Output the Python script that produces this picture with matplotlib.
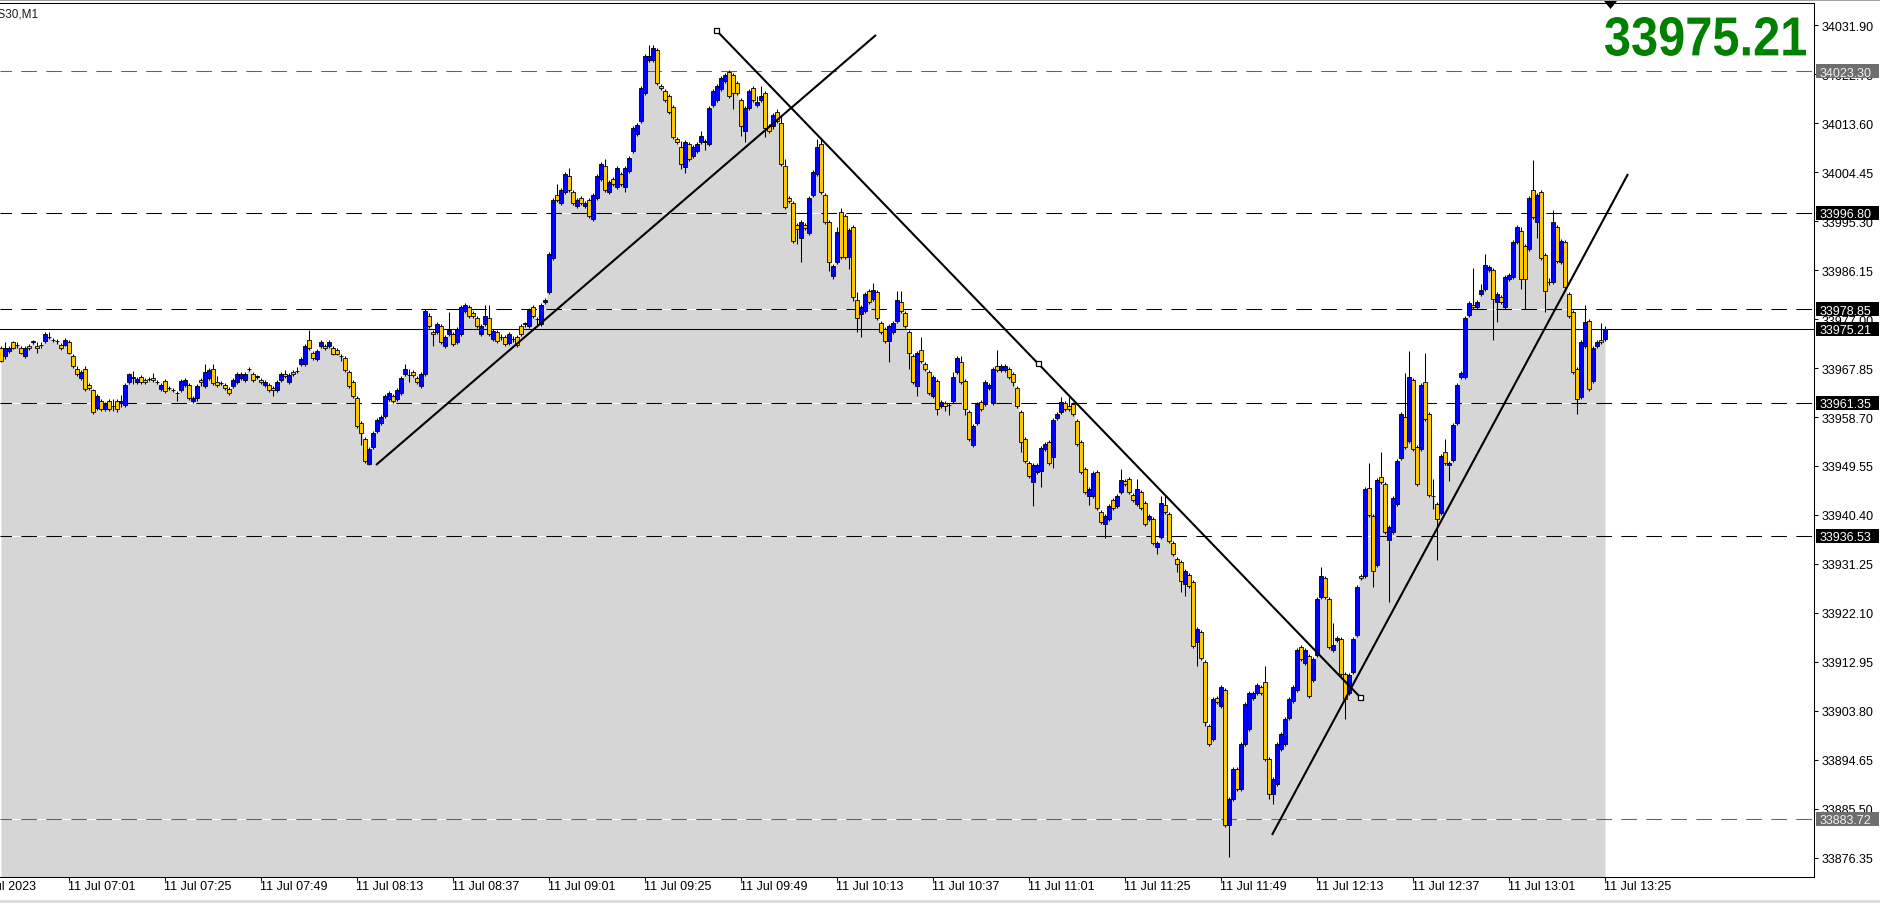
import numpy as np
import matplotlib
matplotlib.use('Agg')
import matplotlib.pyplot as plt
from matplotlib.patches import Rectangle, Polygon, PathPatch
from matplotlib.textpath import TextPath
from matplotlib.font_manager import FontProperties
from matplotlib.transforms import Affine2D, IdentityTransform, blended_transform_factory, offset_copy

plt.rcParams['font.family'] = ['Liberation Sans', 'DejaVu Sans']

W, H = 1881, 904
DPI = 100

# ---------------- data (US30, M1, 11 Jul 2023, bars from 06:44 to 13:25) ----------------
first_bar_time = "06:44"

opens = [
33971.6, 33970.1, 33971.0, 33972.7, 33972.1, 33971.6, 33970.1, 33972.0, 33972.7, 33972.0,
33972.1, 33972.9, 33973.6, 33973.1, 33972.9, 33972.2, 33972.2, 33972.7, 33970.1, 33967.7,
33966.0, 33967.7, 33964.7, 33963.7, 33960.4, 33961.7, 33960.2, 33961.7, 33960.8, 33961.7,
33961.3, 33960.9, 33965.2, 33966.0, 33965.2, 33966.2, 33965.6, 33965.8, 33966.0, 33965.3,
33963.9, 33965.4, 33964.1, 33963.7, 33963.2, 33963.7, 33964.7, 33964.7, 33961.7, 33962.3,
33965.6, 33964.5, 33966.0, 33967.7, 33965.2, 33965.0, 33964.7, 33963.9, 33964.5, 33965.2,
33966.0, 33965.6, 33967.7, 33966.7, 33966.2, 33965.6, 33964.7, 33964.7, 33964.1, 33963.7,
33965.6, 33966.7, 33965.2, 33967.1, 33967.3, 33968.6, 33968.6, 33973.1, 33970.7, 33969.5,
33972.0, 33972.0, 33972.0, 33971.6, 33971.2, 33970.1, 33969.7, 33967.1, 33965.2, 33962.3,
33957.6, 33954.6, 33949.9, 33953.1, 33956.1, 33957.6, 33958.9, 33962.1, 33962.6, 33962.1,
33963.2, 33966.7, 33966.5, 33967.1, 33966.0, 33964.5, 33966.7, 33977.6, 33974.6, 33974.6,
33975.7, 33972.0, 33974.2, 33974.2, 33972.7, 33974.2, 33978.5, 33979.3, 33978.1, 33977.2,
33974.2, 33976.1, 33977.2, 33973.3, 33974.5, 33973.6, 33973.6, 33972.5, 33973.3, 33973.6,
33975.7, 33976.1, 33975.7, 33979.3, 33977.0, 33976.1, 33980.2, 33982.0, 33988.4, 34000.2,
33998.7, 34000.7, 34003.7, 34000.7, 33998.1, 33999.6, 33998.1, 33999.2, 33995.7, 33999.6,
34003.2, 34005.6, 34000.7, 34003.2, 34001.7, 34004.1, 34001.7, 34004.6, 34008.4, 34011.5,
34014.0, 34019.2, 34025.4, 34025.4, 34027.2, 34020.5, 34019.6, 34018.6, 34016.6, 34010.6,
34009.1, 34005.4, 34009.7, 34007.5, 34008.4, 34010.1, 34010.1, 34009.7, 34017.0, 34017.9,
34020.0, 34021.5, 34023.1, 34022.6, 34021.1, 34017.9, 34012.1, 34016.4, 34020.1, 34017.0,
34017.9, 34019.2, 34013.0, 34013.0, 34015.7, 34013.6, 34005.6, 33999.6, 33998.7, 33994.6,
33992.1, 33994.6, 33993.1, 34000.2, 34004.1, 34009.7, 34000.2, 33995.1, 33985.0, 33987.6,
33997.0, 33996.2, 33988.6, 33994.2, 33980.6, 33978.0, 33978.5, 33982.2, 33980.7, 33982.1,
33976.3, 33975.1, 33972.9, 33974.6, 33976.6, 33980.2, 33978.1, 33974.6, 33970.1, 33964.5,
33971.2, 33968.6, 33967.1, 33962.6, 33965.4, 33960.8, 33961.3, 33961.0, 33961.7, 33967.1,
33969.0, 33965.4, 33959.6, 33953.5, 33957.6, 33961.5, 33961.1, 33964.1, 33961.3, 33968.2,
33967.5, 33967.5, 33967.7, 33966.7, 33964.1, 33959.6, 33954.6, 33950.1, 33946.6, 33948.4,
33948.6, 33952.7, 33954.0, 33951.2, 33958.5, 33959.6, 33961.3, 33960.8, 33961.1, 33958.0,
33954.0, 33949.0, 33944.0, 33944.0, 33948.4, 33941.0, 33938.7, 33939.7, 33943.2, 33942.1,
33944.7, 33946.7, 33947.1, 33944.1, 33942.5, 33944.7, 33942.6, 33939.6, 33939.7, 33934.4,
33936.3, 33942.3, 33940.6, 33935.2, 33932.2, 33931.6, 33927.5, 33929.2, 33927.9, 33916.7,
33918.6, 33912.9, 33901.0, 33898.6, 33906.2, 33904.7, 33907.7, 33882.5, 33887.4, 33893.0,
33889.2, 33897.6, 33900.4, 33906.2, 33907.2, 33908.3, 33909.2, 33894.8, 33888.3, 33890.2,
33896.7, 33897.6, 33902.5, 33905.7, 33907.7, 33915.8, 33912.8, 33914.1, 33909.6, 33914.3,
33925.1, 33928.6, 33924.7, 33915.2, 33917.1, 33917.3, 33910.7, 33907.2, 33911.1, 33918.0,
33929.0, 33929.0, 33945.4, 33940.2, 33931.1, 33947.5, 33946.2, 33935.7, 33937.2, 33942.5,
33951.1, 33958.7, 33954.2, 33965.6, 33953.1, 33952.7, 33965.2, 33959.3, 33944.0, 33942.5,
33940.8, 33952.2, 33949.7, 33950.7, 33957.6, 33966.2, 33966.2, 33977.8, 33979.6, 33979.3,
33981.7, 33982.6, 33986.2, 33986.2, 33980.2, 33981.1, 33979.3, 33984.5, 33984.9, 33991.4,
33993.4, 33990.6, 33990.1, 34001.1, 33995.1, 34000.7, 33989.0, 33984.0, 33983.9, 33994.2,
33987.6, 33991.4, 33981.7, 33978.3, 33967.7, 33962.4, 33972.0, 33976.6, 33965.4, 33972.0,
33973.1, 33973.3]

highs = [
33972.0, 33972.7, 33972.0, 33972.9, 33972.7, 33971.9, 33971.9, 33972.3, 33973.0, 33972.7,
33972.7, 33974.5, 33974.6, 33973.4, 33973.3, 33972.5, 33973.5, 33973.0, 33970.4, 33968.2,
33967.5, 33968.2, 33965.0, 33964.0, 33963.0, 33962.0, 33961.5, 33962.0, 33962.1, 33962.0,
33962.8, 33965.0, 33967.0, 33967.3, 33966.2, 33966.5, 33965.9, 33966.1, 33966.9, 33965.6,
33965.0, 33965.8, 33964.5, 33964.1, 33963.6, 33965.8, 33966.0, 33965.0, 33962.6, 33964.9,
33965.9, 33968.6, 33967.8, 33968.6, 33966.4, 33965.4, 33965.0, 33964.3, 33966.0, 33967.1,
33967.1, 33967.1, 33968.0, 33967.1, 33966.6, 33965.9, 33965.6, 33965.0, 33964.5, 33965.6,
33967.1, 33967.5, 33966.9, 33967.4, 33968.0, 33969.9, 33972.3, 33974.9, 33971.0, 33971.4,
33973.1, 33972.3, 33973.1, 33971.9, 33971.6, 33970.4, 33970.0, 33967.4, 33965.6, 33962.6,
33957.9, 33955.0, 33953.1, 33956.1, 33958.5, 33959.1, 33963.0, 33963.6, 33963.0, 33964.1,
33966.4, 33968.6, 33967.7, 33967.4, 33966.4, 33967.1, 33978.9, 33978.1, 33974.9, 33976.5,
33976.1, 33974.0, 33978.3, 33974.6, 33975.5, 33979.6, 33980.0, 33979.6, 33978.5, 33977.6,
33976.1, 33979.6, 33979.6, 33975.1, 33974.9, 33974.2, 33974.0, 33974.6, 33973.8, 33974.0,
33976.1, 33976.5, 33979.1, 33979.6, 33977.4, 33980.0, 33981.0, 33989.5, 33999.6, 34002.2,
34001.5, 34004.5, 34005.2, 34001.1, 33999.6, 34000.0, 33999.0, 33999.6, 34000.6, 34004.1,
34006.4, 34006.9, 34003.0, 34003.5, 34005.6, 34004.5, 34005.6, 34007.5, 34013.1, 34013.6,
34020.5, 34026.5, 34028.2, 34028.2, 34027.6, 34020.9, 34020.0, 34019.0, 34017.0, 34011.0,
34010.2, 34010.5, 34010.1, 34009.5, 34010.1, 34012.1, 34010.6, 34016.8, 34020.0, 34020.9,
34022.4, 34023.0, 34023.5, 34023.0, 34021.5, 34018.3, 34016.8, 34020.0, 34020.5, 34018.7,
34020.5, 34019.6, 34013.4, 34015.5, 34016.2, 34015.0, 34006.9, 34000.0, 33999.0, 33995.0,
33995.5, 33995.0, 34000.0, 34004.9, 34010.6, 34010.6, 34000.6, 33995.5, 33987.3, 33994.2,
33997.7, 33996.6, 33994.0, 33994.6, 33982.1, 33979.6, 33982.1, 33982.6, 33983.7, 33982.5,
33976.7, 33975.5, 33976.1, 33976.7, 33982.2, 33982.2, 33978.5, 33975.0, 33970.5, 33971.1,
33973.6, 33969.0, 33967.5, 33966.6, 33965.8, 33961.9, 33961.7, 33961.4, 33967.1, 33970.1,
33970.0, 33965.8, 33960.0, 33957.4, 33961.5, 33961.9, 33965.6, 33965.1, 33968.1, 33971.2,
33968.6, 33968.6, 33968.1, 33967.1, 33964.5, 33960.0, 33955.0, 33950.5, 33950.1, 33950.1,
33953.3, 33954.1, 33954.4, 33958.5, 33959.7, 33962.4, 33961.7, 33962.4, 33961.5, 33958.4,
33954.4, 33949.4, 33945.7, 33948.7, 33948.8, 33941.4, 33940.6, 33942.5, 33943.6, 33944.4,
33949.0, 33947.1, 33947.5, 33944.5, 33947.1, 33945.1, 33943.0, 33940.6, 33940.1, 33935.6,
33944.0, 33944.0, 33941.0, 33935.6, 33932.6, 33932.0, 33930.4, 33929.6, 33928.3, 33919.5,
33919.0, 33913.3, 33901.4, 33906.4, 33906.6, 33908.7, 33908.1, 33887.8, 33893.4, 33893.4,
33898.0, 33905.5, 33907.6, 33907.6, 33909.1, 33908.7, 33912.2, 33895.2, 33891.5, 33898.0,
33899.9, 33902.7, 33906.4, 33908.7, 33915.6, 33916.2, 33915.6, 33914.5, 33913.9, 33925.1,
33930.7, 33929.0, 33925.1, 33920.2, 33917.8, 33917.7, 33911.1, 33910.9, 33917.7, 33927.4,
33929.4, 33945.7, 33950.1, 33940.6, 33947.4, 33952.2, 33946.6, 33938.6, 33944.0, 33950.9,
33959.7, 33966.9, 33971.0, 33966.0, 33953.5, 33965.1, 33970.6, 33959.7, 33947.1, 33942.9,
33951.8, 33954.6, 33950.5, 33957.6, 33965.1, 33967.3, 33977.6, 33980.4, 33986.5, 33980.6,
33983.5, 33989.1, 33987.1, 33986.6, 33982.1, 33981.5, 33985.3, 33985.6, 33991.8, 33994.6,
33994.2, 33991.0, 34000.0, 34006.7, 34000.6, 34001.1, 33989.4, 33984.6, 33997.4, 33994.6,
33992.0, 33991.8, 33982.1, 33978.7, 33968.1, 33973.1, 33979.6, 33977.0, 33972.0, 33973.1,
33976.3, 33975.6]

lows = [
33969.0, 33969.5, 33970.7, 33971.4, 33971.6, 33970.4, 33969.7, 33971.2, 33972.4, 33970.7,
33971.6, 33972.5, 33973.3, 33972.7, 33972.3, 33971.3, 33971.9, 33970.4, 33967.9, 33966.4,
33965.6, 33963.5, 33963.7, 33959.2, 33960.0, 33959.8, 33959.8, 33959.8, 33959.8, 33959.6,
33960.6, 33960.6, 33964.9, 33964.9, 33964.9, 33964.9, 33964.9, 33965.4, 33965.3, 33964.9,
33963.6, 33963.2, 33963.7, 33963.3, 33961.7, 33963.3, 33964.3, 33961.9, 33961.3, 33961.7,
33964.5, 33964.1, 33965.6, 33964.7, 33964.3, 33964.7, 33963.7, 33962.8, 33964.1, 33964.9,
33965.6, 33965.2, 33967.3, 33965.2, 33965.8, 33964.9, 33964.3, 33963.4, 33962.6, 33963.4,
33965.2, 33966.0, 33964.9, 33966.4, 33966.9, 33968.2, 33968.2, 33971.2, 33969.4, 33969.2,
33971.6, 33971.2, 33971.6, 33970.2, 33970.2, 33969.2, 33967.1, 33964.1, 33962.2, 33956.6,
33953.5, 33950.1, 33949.7, 33952.7, 33955.7, 33957.2, 33958.5, 33961.7, 33961.3, 33961.7,
33962.8, 33966.4, 33965.2, 33966.2, 33964.9, 33964.1, 33966.4, 33975.3, 33972.0, 33974.2,
33972.3, 33971.6, 33973.9, 33971.9, 33972.3, 33973.8, 33978.1, 33977.2, 33977.2, 33975.3,
33973.8, 33975.7, 33973.8, 33972.9, 33972.5, 33973.1, 33971.9, 33972.1, 33972.7, 33971.8,
33973.8, 33975.5, 33975.3, 33977.2, 33975.7, 33975.7, 33979.8, 33981.6, 33988.0, 33998.8,
33998.3, 34000.3, 34000.7, 33998.3, 33997.7, 33998.3, 33997.7, 33995.8, 33995.3, 33999.2,
34002.8, 34000.7, 34000.3, 34001.8, 34001.3, 34001.8, 34000.7, 34004.3, 34008.0, 34011.1,
34013.6, 34018.8, 34025.0, 34025.0, 34020.7, 34019.8, 34017.5, 34015.3, 34010.6, 34009.7,
34005.0, 34004.3, 34006.5, 34007.1, 34008.0, 34009.7, 34008.6, 34009.3, 34016.6, 34017.5,
34019.6, 34021.1, 34018.2, 34016.2, 34018.8, 34011.2, 34010.1, 34016.0, 34017.5, 34016.6,
34017.5, 34011.0, 34011.7, 34012.5, 34013.6, 34005.6, 33997.6, 33998.7, 33991.2, 33991.0,
33987.6, 33993.6, 33992.7, 33999.8, 34003.7, 34000.3, 33994.7, 33986.0, 33984.4, 33987.2,
33988.2, 33988.2, 33986.3, 33980.4, 33974.6, 33973.6, 33978.1, 33979.8, 33980.4, 33976.8,
33974.2, 33972.5, 33969.0, 33974.2, 33976.2, 33978.1, 33975.3, 33967.7, 33964.8, 33962.6,
33968.8, 33967.3, 33962.8, 33962.2, 33959.1, 33960.4, 33959.9, 33959.1, 33961.3, 33966.7,
33964.8, 33959.1, 33954.2, 33953.1, 33957.2, 33959.8, 33960.7, 33963.7, 33960.9, 33967.1,
33967.1, 33967.1, 33965.8, 33964.4, 33960.4, 33952.2, 33950.1, 33947.3, 33942.1, 33948.0,
33945.6, 33952.3, 33949.7, 33949.2, 33958.1, 33959.2, 33959.8, 33959.8, 33958.9, 33953.3,
33948.0, 33944.3, 33942.3, 33943.6, 33941.3, 33938.7, 33936.1, 33939.3, 33941.3, 33941.7,
33944.3, 33945.8, 33944.3, 33942.8, 33942.1, 33941.3, 33938.3, 33939.2, 33934.8, 33933.1,
33935.9, 33940.6, 33935.1, 33932.7, 33929.8, 33926.0, 33925.3, 33926.8, 33915.6, 33912.2,
33913.3, 33901.0, 33897.2, 33898.2, 33905.1, 33904.3, 33882.1, 33876.5, 33887.0, 33888.8,
33888.8, 33897.2, 33900.0, 33905.8, 33906.8, 33906.8, 33894.4, 33887.4, 33886.4, 33889.8,
33896.3, 33897.2, 33902.1, 33905.3, 33907.3, 33913.1, 33912.4, 33906.2, 33909.2, 33913.9,
33924.7, 33924.7, 33915.4, 33914.8, 33916.7, 33910.3, 33902.3, 33906.8, 33910.7, 33917.6,
33928.2, 33928.6, 33940.0, 33927.0, 33930.7, 33946.2, 33936.8, 33924.2, 33936.8, 33942.1,
33950.7, 33952.7, 33953.8, 33952.3, 33945.8, 33952.3, 33957.9, 33943.7, 33941.5, 33932.0,
33940.4, 33949.7, 33946.7, 33950.3, 33957.2, 33965.8, 33965.8, 33977.4, 33978.9, 33978.9,
33981.3, 33982.2, 33985.8, 33973.1, 33976.4, 33979.8, 33978.9, 33984.1, 33984.5, 33991.0,
33982.6, 33978.9, 33989.7, 33995.7, 33992.1, 33988.0, 33978.3, 33983.3, 33983.5, 33987.4,
33987.2, 33982.6, 33977.2, 33966.7, 33959.3, 33962.0, 33971.6, 33963.5, 33965.0, 33971.6,
33972.3, 33972.9]

closes = [
33969.2, 33971.6, 33971.6, 33971.6, 33972.2, 33970.7, 33971.6, 33971.6, 33972.8, 33971.6,
33972.2, 33974.2, 33973.7, 33973.0, 33972.8, 33971.6, 33973.1, 33970.7, 33968.2, 33966.7,
33967.1, 33963.9, 33964.1, 33959.6, 33962.6, 33960.2, 33961.1, 33960.2, 33960.7, 33960.2,
33961.7, 33964.7, 33966.7, 33966.0, 33965.8, 33965.2, 33965.2, 33965.8, 33965.6, 33965.2,
33964.7, 33963.6, 33964.1, 33963.7, 33963.1, 33965.4, 33965.6, 33962.3, 33962.3, 33964.5,
33965.2, 33967.1, 33967.5, 33965.0, 33964.7, 33965.0, 33964.1, 33963.2, 33965.6, 33966.7,
33966.7, 33966.7, 33967.6, 33965.6, 33966.2, 33965.2, 33965.2, 33963.7, 33963.7, 33965.2,
33966.7, 33966.4, 33966.6, 33966.7, 33967.2, 33969.5, 33972.0, 33971.6, 33969.7, 33971.0,
33972.7, 33971.6, 33972.7, 33970.5, 33970.5, 33970.0, 33967.5, 33964.5, 33962.6, 33957.0,
33955.7, 33950.5, 33952.7, 33955.7, 33958.1, 33958.7, 33962.6, 33963.2, 33961.7, 33963.7,
33966.0, 33967.7, 33966.5, 33966.5, 33965.2, 33966.7, 33978.5, 33975.7, 33974.2, 33976.1,
33972.7, 33973.6, 33975.0, 33972.3, 33975.1, 33979.3, 33979.6, 33977.6, 33977.6, 33975.7,
33975.7, 33977.6, 33974.2, 33974.8, 33972.9, 33973.7, 33972.3, 33974.2, 33973.2, 33972.2,
33974.2, 33976.1, 33978.7, 33977.6, 33977.0, 33979.6, 33980.6, 33989.1, 33999.2, 33999.2,
34001.1, 34004.1, 34001.1, 33998.7, 33999.2, 33998.7, 33998.7, 33996.2, 34000.2, 34003.7,
34006.0, 34001.1, 34002.6, 34002.2, 34005.2, 34002.2, 34005.2, 34007.1, 34012.7, 34013.2,
34020.1, 34026.1, 34026.1, 34027.6, 34021.1, 34020.1, 34017.9, 34015.7, 34011.0, 34010.1,
34006.0, 34010.1, 34006.9, 34009.1, 34009.7, 34011.2, 34010.1, 34016.4, 34019.6, 34020.5,
34022.0, 34022.6, 34018.6, 34019.2, 34019.2, 34013.0, 34016.4, 34019.6, 34017.9, 34017.5,
34018.6, 34012.7, 34012.1, 34015.1, 34014.0, 34006.0, 33998.0, 33999.0, 33991.6, 33993.8,
33995.1, 33994.0, 33999.6, 34004.5, 34009.1, 34000.7, 33995.1, 33987.6, 33986.9, 33993.3,
33988.6, 33988.6, 33993.6, 33981.1, 33977.2, 33979.3, 33981.7, 33980.2, 33982.4, 33977.2,
33974.6, 33972.9, 33975.7, 33976.3, 33980.6, 33978.5, 33975.7, 33970.7, 33965.2, 33970.7,
33969.2, 33967.7, 33963.2, 33966.2, 33960.2, 33961.5, 33960.8, 33960.9, 33966.2, 33969.7,
33965.2, 33960.2, 33954.6, 33957.0, 33961.1, 33960.2, 33965.2, 33964.7, 33967.7, 33967.5,
33968.2, 33968.2, 33966.2, 33965.2, 33960.8, 33954.0, 33950.5, 33947.7, 33949.7, 33949.7,
33952.9, 33953.7, 33950.1, 33958.1, 33959.3, 33961.5, 33960.2, 33960.2, 33959.3, 33953.7,
33948.4, 33944.7, 33945.3, 33948.3, 33941.7, 33939.1, 33940.2, 33942.1, 33941.7, 33944.0,
33946.9, 33946.2, 33944.7, 33943.2, 33945.3, 33941.7, 33938.7, 33940.2, 33935.2, 33935.2,
33942.6, 33941.0, 33935.5, 33933.1, 33931.2, 33928.1, 33930.0, 33927.2, 33916.0, 33919.1,
33913.7, 33901.7, 33897.6, 33906.0, 33905.5, 33908.3, 33882.5, 33887.4, 33893.0, 33889.2,
33897.6, 33905.1, 33907.2, 33907.2, 33908.7, 33907.2, 33894.8, 33888.3, 33891.1, 33897.6,
33899.5, 33902.3, 33906.0, 33908.3, 33915.2, 33913.5, 33915.2, 33906.6, 33913.5, 33924.7,
33929.0, 33925.1, 33915.8, 33916.1, 33917.4, 33910.7, 33906.0, 33910.5, 33917.3, 33927.0,
33928.6, 33945.3, 33940.4, 33929.9, 33947.0, 33946.6, 33937.2, 33938.2, 33943.6, 33950.5,
33959.3, 33953.1, 33966.2, 33952.7, 33946.2, 33964.7, 33958.3, 33944.1, 33943.9, 33939.7,
33951.4, 33950.1, 33950.1, 33957.2, 33964.7, 33966.9, 33977.2, 33980.0, 33979.3, 33980.2,
33982.4, 33987.1, 33986.7, 33980.7, 33981.7, 33980.2, 33984.9, 33985.2, 33991.4, 33994.2,
33984.5, 33984.5, 33999.6, 33996.1, 34000.2, 33988.4, 33982.2, 33983.9, 33995.1, 33987.8,
33991.6, 33983.0, 33977.6, 33967.1, 33962.1, 33972.7, 33976.4, 33963.9, 33971.6, 33972.7,
33972.7, 33975.21]

# price scale shown on the right axis
price_ticks = [34031.90, 34022.75, 34013.60, 34004.45, 33995.30, 33986.15, 33977.00, 33967.85,
               33958.70, 33949.55, 33940.40, 33931.25, 33922.10, 33912.95, 33903.80, 33894.65,
               33885.50, 33876.35]
price_min, price_max = 33872.80, 34036.01

# time axis labels
time_ticks = ["06:37", "07:01", "07:25", "07:49", "08:13", "08:37", "09:01", "09:25", "09:49",
              "10:13", "10:37", "11:01", "11:25", "11:49", "12:13", "12:37", "13:01", "13:25"]
time_labels = ["11 Jul 2023"] + ["11 Jul " + t for t in time_ticks[1:]]

# horizontal levels
levels_black = [33996.80, 33978.85, 33961.35, 33936.53]
levels_gray = [34023.30, 33883.72]
current_price = closes[-1]

# trend lines: (bar index, price) pairs
trend_up1 = [(93.75, 33949.74), (218.75, 34030.04)]
trend_down = [(178.75, 34030.97), (339.75, 33906.42)]
trend_up2 = [(317.75, 33880.65), (406.75, 34004.08)]

# ---------------- figure ----------------
fig = plt.figure(figsize=(W / DPI, H / DPI), dpi=DPI)
fig.patch.set_facecolor('white')

def fxp(px):
    return px / W

def fyp(py):
    return 1 - py / H

ax = fig.add_axes([0, fyp(878), fxp(1814), (878 - 4) / H])
ax.set_facecolor('white')

def tmin(s):
    hh, mm = s.split(':')
    return int(hh) * 60 + int(mm)

t0 = tmin(first_bar_time)
n = len(opens)
k = np.arange(n)
o = np.array(opens); hi = np.array(highs); lo = np.array(lows); c = np.array(closes)

ax.set_xlim(-0.25, 453.25)
ax.set_ylim(price_min, price_max)

# gray area under price
ax.fill_between(k, c, price_min, step='mid', color='#d6d6d6', lw=0, zorder=1)

# levels
for lv in levels_black + levels_gray:
    ax.axhline(lv, color='white', lw=0.75, zorder=2)
for lv in levels_black:
    ax.axhline(lv, color='black', lw=0.75, linestyle=(4, (15, 9)), zorder=2.1)
for lv in levels_gray:
    ax.axhline(lv, color='#6b5b74', lw=0.75, linestyle=(4, (15, 9)), zorder=2.1)
ax.axhline(current_price, color='black', lw=0.75, zorder=2.2)

# candles
up = c >= o
colors = np.where(up, '#0000ff', '#ffc800')
ax.vlines(k, lo, hi, colors='black', lw=0.75, zorder=3)
body_bottom = np.minimum(o, c)
body_h = np.maximum(np.abs(c - o), 0.08)
ax.bar(k, body_h, bottom=body_bottom, width=0.8, color=colors, edgecolor='black',
       linewidth=0.6, zorder=4)

# trend lines
for tl in (trend_up1, trend_down, trend_up2):
    xs = [p[0] for p in tl]; ys = [p[1] for p in tl]
    ax.plot(xs, ys, color='black', lw=1.5, zorder=5, solid_capstyle='butt')
hx = [trend_down[0][0], (trend_down[0][0] + trend_down[1][0]) / 2, trend_down[1][0]]
hy = [trend_down[0][1], (trend_down[0][1] + trend_down[1][1]) / 2, trend_down[1][1]]
ax.plot(hx, hy, linestyle='none', marker='s', ms=3.6, mfc='white', mec='black', mew=0.9, zorder=6)

# axes styling
ax.spines['left'].set_visible(False)
for s in ('top', 'right', 'bottom'):
    ax.spines[s].set_linewidth(0.75)
    ax.spines[s].set_color('black')

ax.yaxis.tick_right()
ax.set_yticks(price_ticks)
ax.set_yticklabels(["%.2f" % v for v in price_ticks])
ax.tick_params(axis='y', direction='out', length=3, width=0.75, pad=2.5, labelsize=9,
               colors='black')

tick_k = [tmin(t) - t0 for t in time_ticks]
ax.set_xticks([tk for tk in tick_k if tk >= -0.25])
ax.tick_params(axis='x', direction='out', length=3, width=0.75, labelbottom=False)
tr = offset_copy(blended_transform_factory(ax.transData, ax.transAxes), fig=fig,
                 x=-0.5, y=-3.0 * 72 / DPI, units='points')
for tk, lab in zip(tick_k, time_labels):
    ax.text(tk, 0, lab, transform=tr, ha='left', va='top', fontsize=9, clip_on=False,
            color='black')

# price label boxes on the right axis
ident = IdentityTransform()
def price_box(price, bg, fg):
    ypix = ax.transData.transform((0, price))[1]
    fig.add_artist(Rectangle((1816, ypix - 7), 63, 14, transform=ident, facecolor=bg,
                             edgecolor='none', zorder=5))
    fig.text(1820, ypix, "%.2f" % price, transform=ident, color=fg, fontsize=9,
             va='center_baseline', ha='left', zorder=6)

for lv in levels_black:
    price_box(lv, 'black', 'white')
for lv in levels_gray:
    price_box(lv, '#6e6e6e', '#f0f0f0')
price_box(current_price, 'black', 'white')

# big current price text
fp = FontProperties(family='Liberation Sans', weight='bold')
tp = TextPath((0, 0), "%.2f" % current_price, size=100, prop=fp)
bb = tp.get_extents()
sx = 201.0 / bb.width
sy = 39.0 / bb.height
trp = Affine2D().translate(-bb.x0, -bb.y0).scale(sx, sy).translate(1605, H - 57)
fig.add_artist(PathPatch(trp.transform_path(tp), facecolor='#008000', edgecolor='none',
                         transform=ident, zorder=7))

# chart shift marker
fig.add_artist(Polygon([(1604, H - 2), (1617, H - 2), (1610.5, H - 10)], closed=True,
                       facecolor='black', edgecolor='none', transform=ident, zorder=7))

# symbol title
fig.text(-11, H - 18, "US30,M1", transform=ident, fontsize=8.5, color='#1a1a1a',
         va='baseline', ha='left')

# window borders
fig.add_artist(Rectangle((0, H - 2), W, 2, transform=ident, facecolor='#a0a0a0',
                         edgecolor='none', zorder=8))
fig.add_artist(Rectangle((0, 0), W, 3, transform=ident, facecolor='#dcdce2',
                         edgecolor='none', zorder=8))

fig.savefig('out.png', dpi=DPI)
